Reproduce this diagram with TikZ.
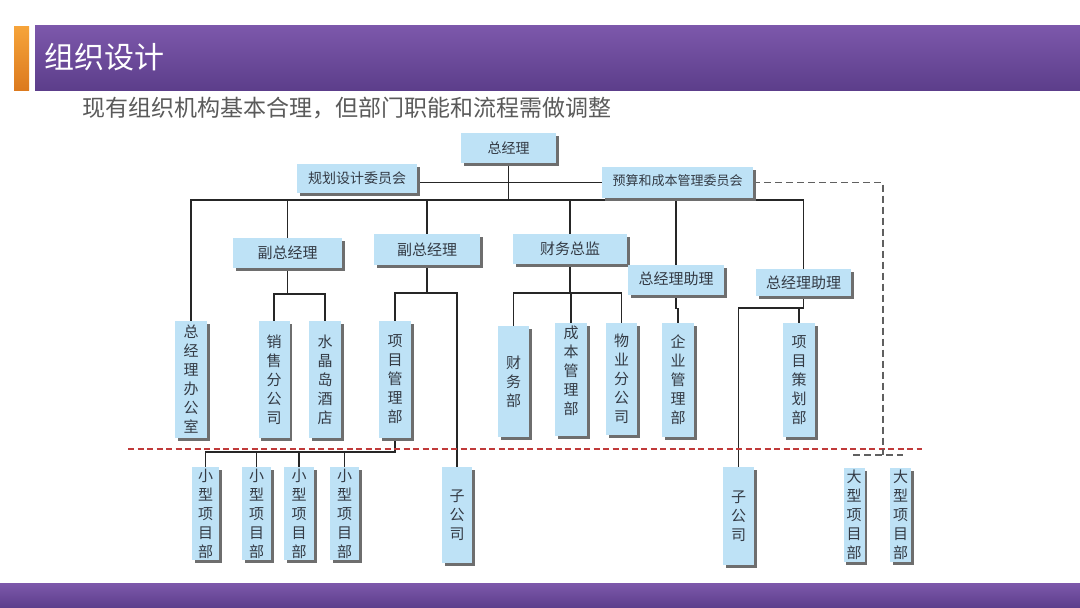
\documentclass[tikz,border=0pt]{standalone}
\usepackage{fontspec}
\newfontfamily\cjk{Noto Sans CJK SC}
\usetikzlibrary{backgrounds}
\definecolor{boxfill}{HTML}{BEE2F6}
\definecolor{shadowc}{HTML}{6E6E6E}
\definecolor{textc}{HTML}{333A44}
\definecolor{linec}{HTML}{262626}
\definecolor{purpleT}{HTML}{7D58AB}
\definecolor{purpleB}{HTML}{5C3E8B}
\definecolor{orangeT}{HTML}{F6A43A}
\definecolor{orangeB}{HTML}{DC7A1E}
\definecolor{subc}{HTML}{5A5A5A}
\definecolor{redd}{HTML}{C03A3A}
\definecolor{grayd}{HTML}{606060}
\tikzset{
  box/.style={fill=boxfill, inner sep=0pt, text=textc, align=center,
    preaction={fill=shadowc, transform canvas={shift={(2.5pt,-2.5pt)}}}},
  hbox/.style={box, font=\cjk\fontsize{15}{19}\selectfont},
  vbox/.style={box, font=\cjk\fontsize{15}{19}\selectfont},
  conn/.style={draw=linec, line width=1.1pt},
  reddash/.style={draw=redd, line width=1.1pt, dash pattern=on 6pt off 3.5pt},
  graydash/.style={draw=grayd, line width=1.1pt, dash pattern=on 7pt off 4pt},
}
\begin{document}
\begin{tikzpicture}[x=1pt,y=-1pt]
\useasboundingbox (0,0) rectangle (1080,608);
% header
\shade[top color=orangeT, bottom color=orangeB] (14,26) rectangle (29,90);
\shade[top color=purpleT, bottom color=purpleB] (35,25) rectangle (1080,90);
\node[anchor=west, text=white, font=\cjk\fontsize{30}{34}\selectfont, inner sep=0pt] (title) at (44,57) {组织设计};
\node[anchor=west, text=subc, font=\cjk\fontsize{23}{26}\selectfont, inner sep=0pt] (subtitle) at (82,108) {现有组织机构基本合理，但部门职能和流程需做调整};
% footer
\shade[top color=purpleT, bottom color=purpleB] (0,583) rectangle (1080,608);

% top level boxes
\node[hbox, font=\cjk\fontsize{14}{17}\selectfont, minimum width=95pt, minimum height=30pt] (gm) at (508.5,148) {总经理};
\node[hbox, font=\cjk\fontsize{14}{17}\selectfont, minimum width=120pt, minimum height=29pt] (plan) at (357,178.5) {规划设计委员会};
\node[hbox, font=\cjk\fontsize{13}{16}\selectfont, minimum width=151pt, minimum height=31pt] (budget) at (677.5,182.5) {\raisebox{4pt}{预算和成本管理委员会}};
\node[hbox, minimum width=109pt, minimum height=30pt] (vp1) at (287.5,253) {副总经理};
\node[hbox, minimum width=106pt, minimum height=31pt] (vp2) at (427,249.5) {副总经理};
\node[hbox, minimum width=114pt, minimum height=30pt] (cfo) at (570,249) {财务总监};
\node[hbox, minimum width=96pt, minimum height=30pt] (as1) at (676,280) {\raisebox{3pt}{总经理助理}};
\node[hbox, minimum width=95pt, minimum height=27pt] (as2) at (803.5,282.5) {总经理助理};

% departments
\node[vbox, minimum width=32pt, minimum height=117pt] (office) at (191,379.5) {总\\经\\理\\办\\公\\室};
\node[vbox, minimum width=31pt, minimum height=117pt] (sales) at (274,379.5) {销\\售\\分\\公\\司};
\node[vbox, minimum width=32pt, minimum height=117pt] (hotel) at (325,379.5) {水\\晶\\岛\\酒\\店};
\node[vbox, minimum width=32pt, minimum height=117pt] (pmd) at (395,379.5) {项\\目\\管\\理\\部};
\node[vbox, minimum width=31pt, minimum height=111pt] (fin) at (513.5,381.5) {财\\务\\部};
\node[vbox, minimum width=32pt, minimum height=113pt] (cost) at (571,379.5) {成\\本\\管\\理\\部\\~};
\node[vbox, minimum width=31pt, minimum height=112pt] (prop) at (621.5,379) {物\\业\\分\\公\\司};
\node[vbox, minimum width=32pt, minimum height=114pt] (ent) at (678,380) {企\\业\\管\\理\\部};
\node[vbox, minimum width=32pt, minimum height=114pt] (proj) at (799,380) {项\\目\\策\\划\\部};

% lower level
\node[vbox, minimum width=27pt, minimum height=93pt] (small1) at (205.5,513.5) {小\\型\\项\\目\\部};
\node[vbox, minimum width=29pt, minimum height=93pt] (small2) at (256.5,513.5) {小\\型\\项\\目\\部};
\node[vbox, minimum width=30pt, minimum height=93pt] (small3) at (299,513.5) {小\\型\\项\\目\\部};
\node[vbox, minimum width=29pt, minimum height=93pt] (small4) at (344.5,513.5) {小\\型\\项\\目\\部};
\node[vbox, minimum width=30pt, minimum height=96pt] (sub1) at (457,515) {子\\公\\司};
\node[vbox, minimum width=31pt, minimum height=98pt] (sub2) at (738.5,516) {子\\公\\司};
\node[vbox, minimum width=21pt, minimum height=94pt] (big1) at (854,515) {大\\型\\项\\目\\部};
\node[vbox, minimum width=21pt, minimum height=94pt] (big2) at (900.5,515) {大\\型\\项\\目\\部};

% junction coordinates
\coordinate (bus) at (0,200);
\coordinate (j1) at (287.5,294);
\coordinate (j2) at (427,293);
\coordinate (j3) at (570,293);
\coordinate (j5) at (801,308);
\coordinate (j6) at (395,452);
\coordinate (dl) at (128,449);
\coordinate (dr) at (922,449);
\coordinate (gd) at (883,455);
\coordinate (gdl) at (853,455);
\coordinate (gdr) at (903,455);

\begin{scope}[on background layer]
\fill[white] (0,0) rectangle (1080,608);
\draw[conn] (plan.east |- budget.west) -- (budget.west);
\draw[conn] (gm.south) -- (gm.south |- bus);
\draw[conn] (office.north) -- (office.north |- bus) -- (as2.north |- bus) -- (as2.north);
\draw[conn] (vp1.north) -- (vp1.north |- bus);
\draw[conn] (vp2.north) -- (vp2.north |- bus);
\draw[conn] (cfo.north) -- (cfo.north |- bus);
\draw[conn] (budget.south -| as1.north) -- (as1.north);
% vp1
\draw[conn] (vp1.south) -- (j1);
\draw[conn] (sales.north) |- (j1) -| (hotel.north);
% vp2
\draw[conn] (vp2.south) -- (j2);
\draw[conn] (pmd.north) |- (j2) -| (sub1.north);
% cfo
\draw[conn] (cfo.south) -- (j3);
\draw[conn] (fin.north) |- (j3) -| (prop.north);
\draw[conn] (j3) -| (cost.north);
% as1
\draw[conn] (as1.south) -- ++(0,13) -| (ent.north);
% as2
\draw[conn] (as2.south) -- (as2.south |- j5) -| (sub2.north);
\draw[conn] (as2.south |- j5) -| (proj.north);
% pmd to small projects
\draw[conn] (pmd.south) -- (j6) -| (small1.north);
\draw[conn] (small2.north) -- (small2.north |- j6);
\draw[conn] (small3.north) -- (small3.north |- j6);
\draw[conn] (small4.north) -- (small4.north |- j6);
% dashed lines
\draw[reddash] (dl) -- (dr);
\draw[graydash] (budget.east) -| (gd);
\draw[graydash] (gdl) -- (gdr);
\end{scope}
\end{tikzpicture}
\end{document}
